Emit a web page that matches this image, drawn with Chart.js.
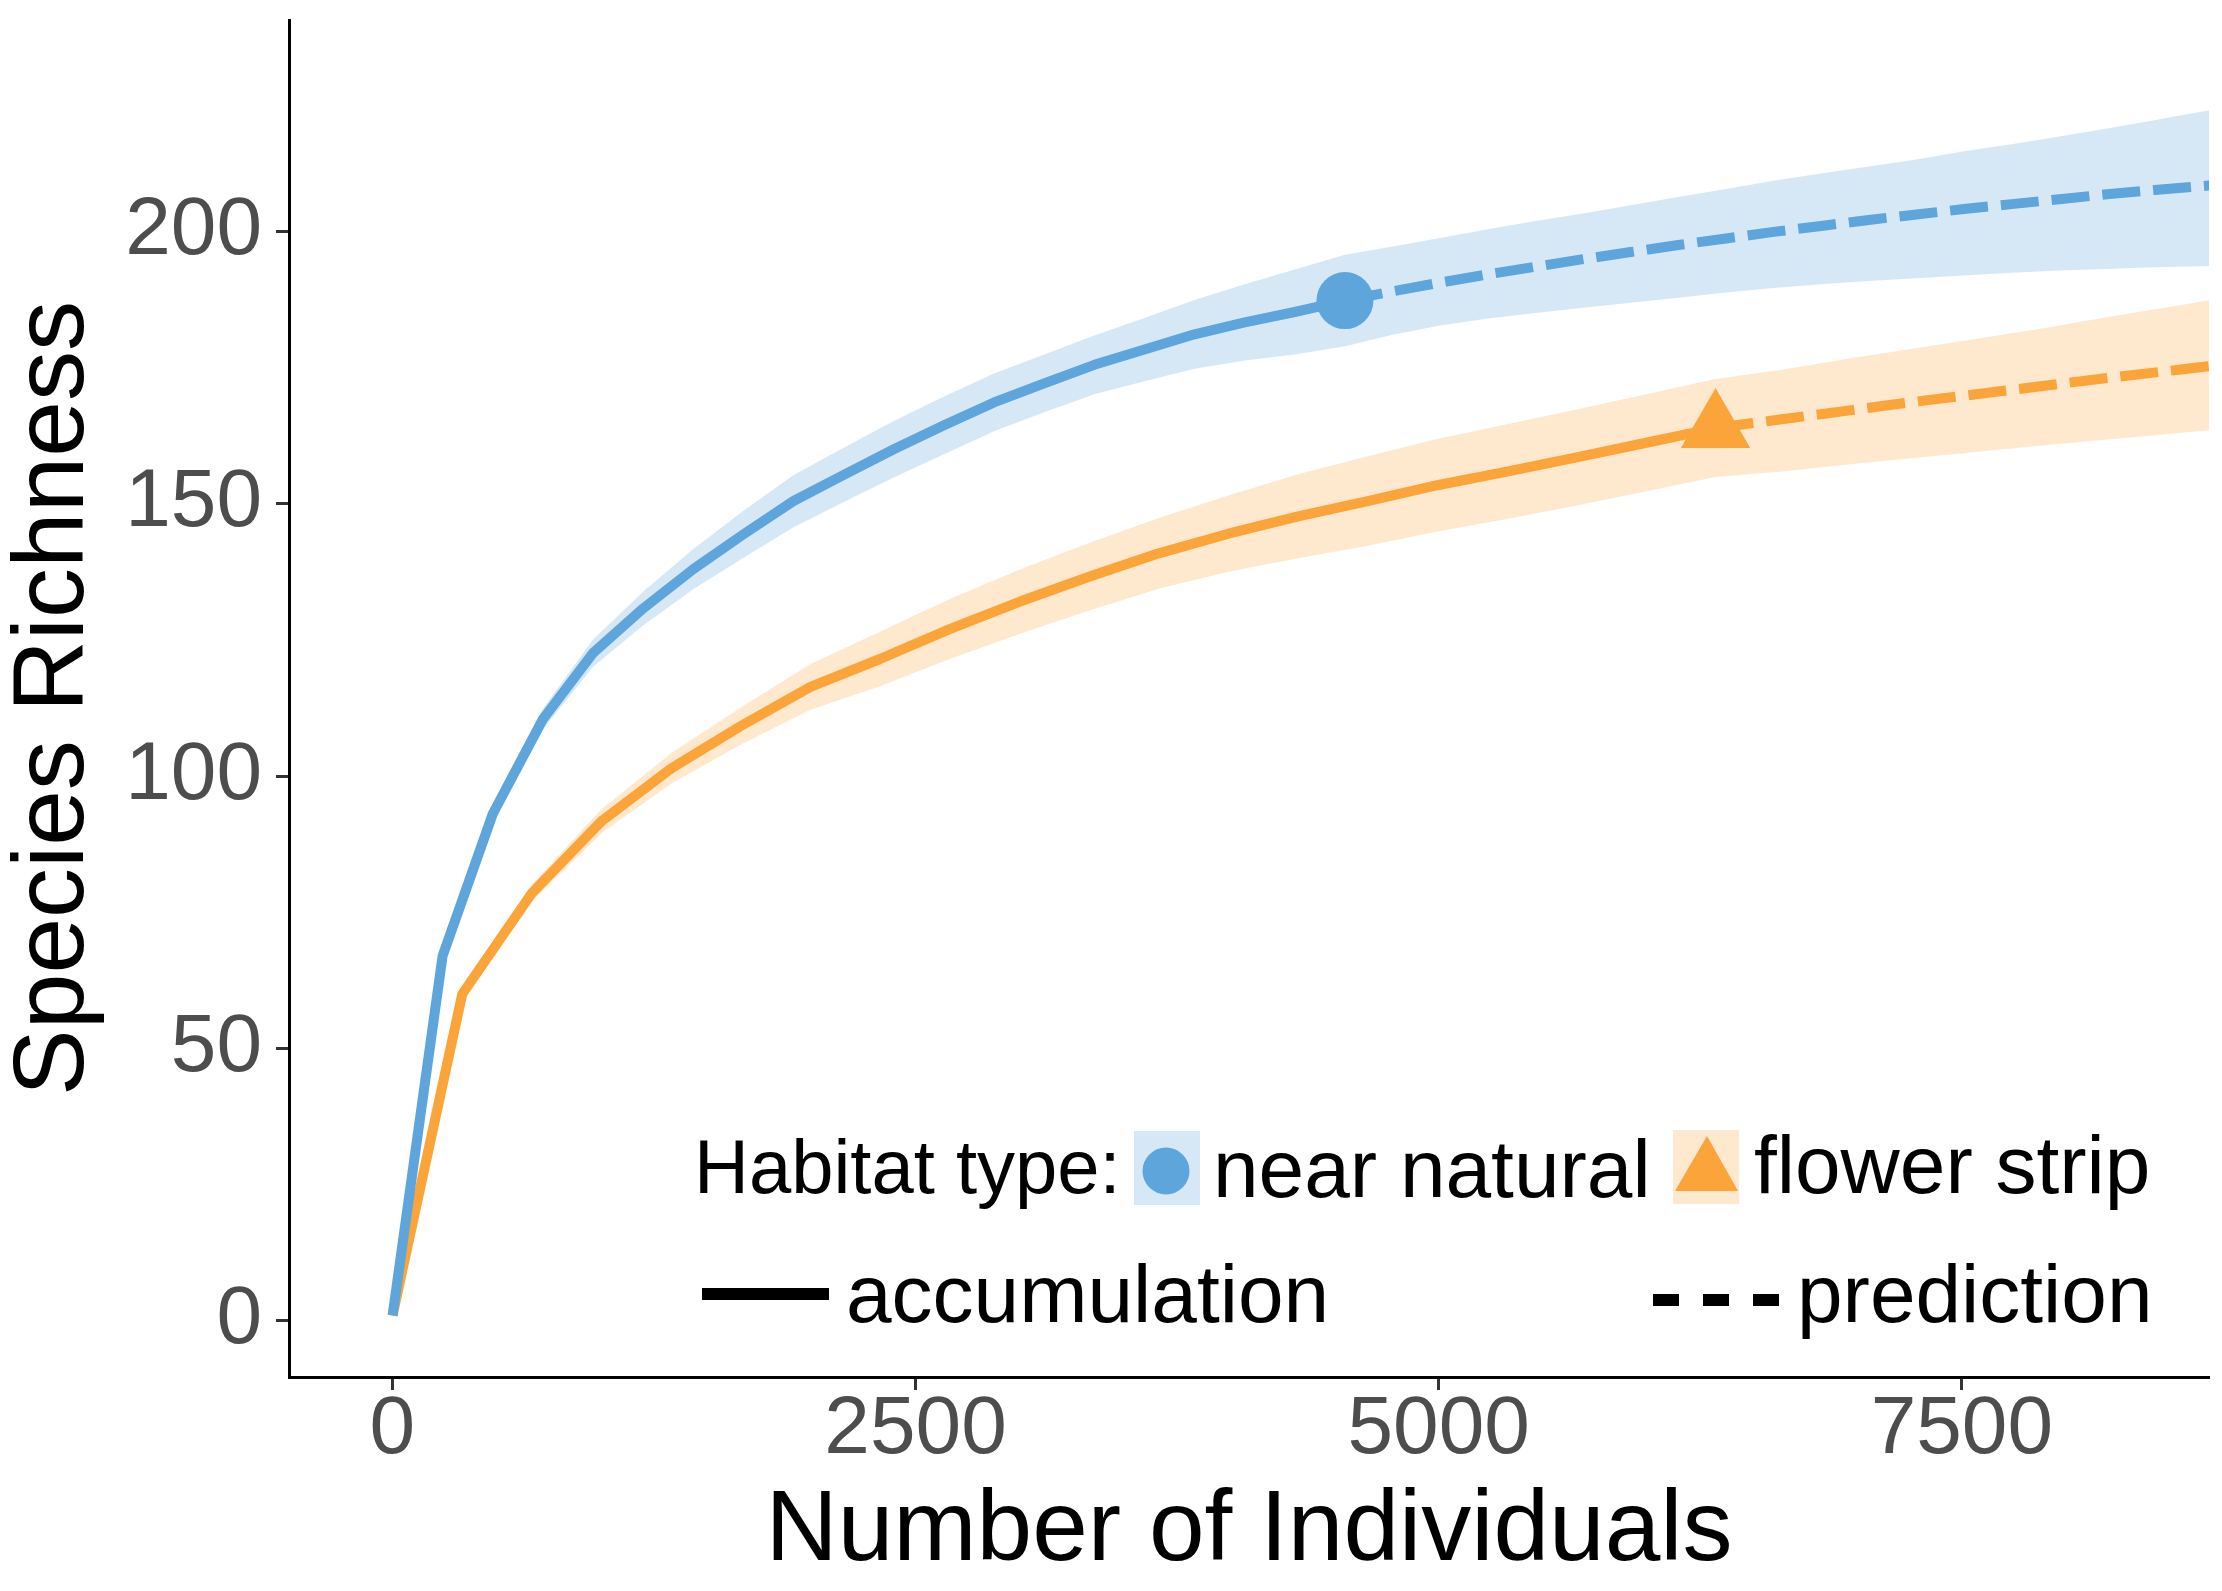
<!DOCTYPE html>
<html>
<head>
<meta charset="utf-8">
<title>Species accumulation curves</title>
<script src="https://cdn.jsdelivr.net/npm/chart.js@4.4.1/dist/chart.umd.min.js"></script>
<style>
  html, body { margin: 0; padding: 0; background: #fff; }
  #wrap { width: 2222px; height: 1591px; }
</style>
</head>
<body>
<div id="wrap"><canvas id="chart" width="2222" height="1591"></canvas></div>
<script>
// near natural - rarefied (accumulation) part
const nearX   = [1, 240, 480, 720, 959, 1199, 1438, 1678, 1917, 2157, 2396, 2636, 2875, 3115, 3354, 3594, 3833, 4073, 4312, 4552];
const nearY   = [1, 67, 93.1, 110.5, 122.6, 130.8, 138, 144.4, 150.5, 155.3, 160, 164.4, 168.6, 172.1, 175.5, 178.3, 181.1, 183.3, 185.2, 187.3];
const nearLow = [1, 66.3, 91.8, 108.6, 120.1, 127.7, 134.3, 140.1, 145.7, 150.3, 154.8, 159.1, 163.3, 166.8, 170.1, 172.5, 174.8, 176.3, 177.4, 178.9];
const nearUp  = [1, 67.7, 94.4, 112.4, 125.1, 133.9, 141.7, 148.7, 155.3, 160.3, 165.2, 169.7, 173.9, 177.4, 180.9, 184.1, 187.4, 190.3, 193.0, 195.7];

// near natural - extrapolated (prediction) part
const nearPredX   = [4552, 4780, 5007, 5235, 5462, 5690, 5917, 6145, 6373, 6600, 6828, 7055, 7283, 7510, 7738, 7966, 8193, 8421, 8648, 8876];
const nearPredY   = [187.3, 189.0, 190.6, 192.1, 193.5, 194.9, 196.2, 197.5, 198.7, 199.9, 201.0, 202.1, 203.1, 204.1, 205.0, 205.9, 206.8, 207.6, 208.3, 209.0];
const nearPredLow = [178.9, 181.0, 182.7, 184.0, 185.0, 186.0, 186.9, 187.8, 188.8, 189.6, 190.3, 190.9, 191.4, 191.9, 192.4, 192.8, 193.1, 193.4, 193.6, 193.8];
const nearPredUp  = [195.7, 197.2, 198.8, 200.4, 201.9, 203.3, 204.8, 206.3, 207.8, 209.3, 210.6, 211.9, 213.2, 214.7, 216.0, 217.4, 218.9, 220.4, 222.0, 223.4];

// flower strip - rarefied part
const flowerX   = [1, 334, 666, 999, 1332, 1665, 1998, 2330, 2663, 2996, 3329, 3662, 3995, 4328, 4661, 4993, 5326, 5659, 5992, 6323];
const flowerY   = [1, 60, 78.5, 91.7, 101.4, 109.2, 116.4, 121.5, 127, 132, 136.6, 140.9, 144.5, 147.7, 150.5, 153.4, 155.9, 158.5, 161.2, 163.9];
const flowerLow = [1, 59.2, 77.0, 89.5, 98.6, 105.8, 112.2, 116.5, 121.5, 126.1, 130.4, 134.4, 137.5, 140.0, 142.3, 144.9, 147.2, 149.7, 152.3, 154.9];
const flowerUp  = [1, 60.8, 80.0, 93.9, 104.2, 112.6, 120.6, 126.5, 132.5, 137.9, 142.8, 147.4, 151.5, 155.4, 158.7, 161.9, 164.6, 167.3, 170.1, 172.9];

// flower strip - extrapolated part
const flowerPredX   = [6323, 6639, 6955, 7271, 7588, 7904, 8220, 8536, 8852];
const flowerPredY   = [163.9, 165.5, 167.1, 168.7, 170.2, 171.7, 173.2, 174.6, 176.0];
const flowerPredLow = [154.9, 155.9, 157.2, 158.4, 159.6, 160.8, 161.9, 163.0, 164.1];
const flowerPredUp  = [172.9, 174.6, 176.6, 178.5, 180.4, 182.3, 184.4, 186.4, 188.5];

// observed sample sizes / richness (the marker points)
const observedX = [4552, 6323];
const observedY = [187.3, 163.9];

const xTicks = [0, 2500, 5000, 7500];
const yTicks = [0, 50, 100, 150, 200];

const habitatLabels = ['near natural', 'flower strip'];
const lineTypeLabels = ['accumulation', 'prediction'];
const legendTitle = 'Habitat type:';

const blue = '#5DA5DA';
const orange = '#FAA43A';
const blueFill = 'rgba(93,165,218,0.25)';
const orangeFill = 'rgba(250,164,58,0.25)';
const FONT = '"Liberation Sans", Arial, Helvetica, sans-serif';

const toXY = (xs, ys) => xs.map((x, i) => ({ x, y: ys[i] }));

const nearBandX = nearX.concat(nearPredX.slice(1));
const nearBandLow = nearLow.concat(nearPredLow.slice(1));
const nearBandUp = nearUp.concat(nearPredUp.slice(1));
const flowerBandX = flowerX.concat(flowerPredX.slice(1));
const flowerBandLow = flowerLow.concat(flowerPredLow.slice(1));
const flowerBandUp = flowerUp.concat(flowerPredUp.slice(1));

const bandEdge = (data) => ({
  data, borderWidth: 0, borderColor: 'rgba(0,0,0,0)', pointRadius: 0, fill: false, clip: 0
});

const lineSet = (data, color, dash) => ({
  data, borderColor: color, borderWidth: 10, borderDash: dash, pointRadius: 0,
  fill: false, tension: 0, borderJoinStyle: 'round', clip: 0
});

// legend drawn by hand, ggplot style, inside the panel
const habitatLegend = {
  id: 'habitatLegend',
  afterDraw(chart) {
    const ctx = chart.ctx;
    ctx.save();
    ctx.textAlign = 'left';
    ctx.textBaseline = 'alphabetic';
    ctx.fillStyle = '#000';
    ctx.font = `76px ${FONT}`;
    ctx.fillText(legendTitle, 694, 1193);

    // near natural key
    ctx.fillStyle = blueFill;
    ctx.fillRect(1134, 1131, 66, 74);
    ctx.fillStyle = blue;
    ctx.beginPath();
    ctx.arc(1166, 1171, 23.5, 0, Math.PI * 2);
    ctx.fill();

    // flower strip key
    ctx.fillStyle = orangeFill;
    ctx.fillRect(1673, 1130, 66, 74);
    ctx.fillStyle = orange;
    ctx.beginPath();
    ctx.moveTo(1707, 1136);
    ctx.lineTo(1738, 1191);
    ctx.lineTo(1675, 1191);
    ctx.closePath();
    ctx.fill();

    ctx.fillStyle = '#000';
    ctx.font = `82px ${FONT}`;
    ctx.fillText(habitatLabels[0], 1213, 1197);
    ctx.fillText(habitatLabels[1], 1754, 1193);

    // line type keys
    ctx.strokeStyle = '#000';
    ctx.lineWidth = 12;
    ctx.lineCap = 'butt';
    ctx.beginPath();
    ctx.moveTo(702, 1294);
    ctx.lineTo(829, 1294);
    ctx.stroke();

    ctx.setLineDash([26, 24]);
    ctx.beginPath();
    ctx.moveTo(1653, 1300);
    ctx.lineTo(1780, 1300);
    ctx.stroke();
    ctx.setLineDash([]);

    ctx.fillText(lineTypeLabels[0], 846, 1322);
    ctx.fillText(lineTypeLabels[1], 1797, 1322);
    ctx.restore();
  }
};

const ctx = document.getElementById('chart').getContext('2d');
new Chart(ctx, {
  type: 'line',
  data: {
    datasets: [
      bandEdge(toXY(nearBandX, nearBandLow)),
      Object.assign(bandEdge(toXY(nearBandX, nearBandUp)), { fill: '-1', backgroundColor: blueFill }),
      bandEdge(toXY(flowerBandX, flowerBandLow)),
      Object.assign(bandEdge(toXY(flowerBandX, flowerBandUp)), { fill: '-1', backgroundColor: orangeFill }),
      lineSet(toXY(nearX, nearY), blue, []),
      lineSet(toXY(nearPredX, nearPredY), blue, [38, 13]),
      lineSet(toXY(flowerX, flowerY), orange, []),
      lineSet(toXY(flowerPredX, flowerPredY), orange, [38, 13]),
      {
        data: [{ x: observedX[0], y: observedY[0] }], showLine: false,
        pointStyle: 'circle', pointRadius: 28.5, pointBackgroundColor: blue, pointBorderWidth: 0
      },
      {
        data: [{ x: observedX[1], y: observedY[1] }], showLine: false,
        pointStyle: 'triangle', pointRadius: 40, pointBackgroundColor: orange, pointBorderWidth: 0
      }
    ]
  },
  options: {
    responsive: false,
    devicePixelRatio: 1,
    animation: false,
    events: [],
    layout: { autoPadding: false, padding: { top: 20, right: 13, left: 0, bottom: 0 } },
    plugins: {
      legend: { display: false },
      tooltip: { enabled: false },
      filler: { drawTime: 'beforeDatasetsDraw' }
    },
    scales: {
      x: {
        type: 'linear',
        min: -494,
        max: 8681,
        afterBuildTicks: (scale) => { scale.ticks = xTicks.map(v => ({ value: v })); },
        afterFit: (scale) => {
          scale.height = 214;
          scale.paddingLeft = 0;
          scale.paddingRight = 0;
        },
        ticks: {
          color: '#4D4D4D', font: { family: FONT, size: 82, lineHeight: 1 }, padding: -1,
          autoSkip: false, maxRotation: 0, callback: (v) => String(v)
        },
        grid: { display: true, drawOnChartArea: false, tickLength: 13, tickColor: '#333333', tickWidth: 3 },
        border: { display: true, color: '#000', width: 3 },
        title: { display: true, text: 'Number of Individuals', color: '#000', font: { family: FONT, size: 100, lineHeight: 1 }, padding: { top: 0, bottom: 9 } }
      },
      y: {
        type: 'linear',
        min: -10.3,
        max: 238.8,
        afterBuildTicks: (scale) => { scale.ticks = yTicks.map(v => ({ value: v })); },
        afterFit: (scale) => {
          scale.width = 289;
          scale.paddingTop = 0;
          scale.paddingBottom = 0;
        },
        ticks: {
          color: '#4D4D4D', font: { family: FONT, size: 82, lineHeight: 1 }, padding: 14,
          autoSkip: false, callback: (v) => String(v)
        },
        grid: { display: true, drawOnChartArea: false, tickLength: 13, tickColor: '#333333', tickWidth: 3 },
        border: { display: true, color: '#000', width: 3 },
        title: { display: true, text: 'Species Richness', color: '#000', font: { family: FONT, size: 100, lineHeight: 0.96 }, padding: { top: 7, bottom: 0 } }
      }
    }
  },
  plugins: [habitatLegend]
});
</script>
</body>
</html>
